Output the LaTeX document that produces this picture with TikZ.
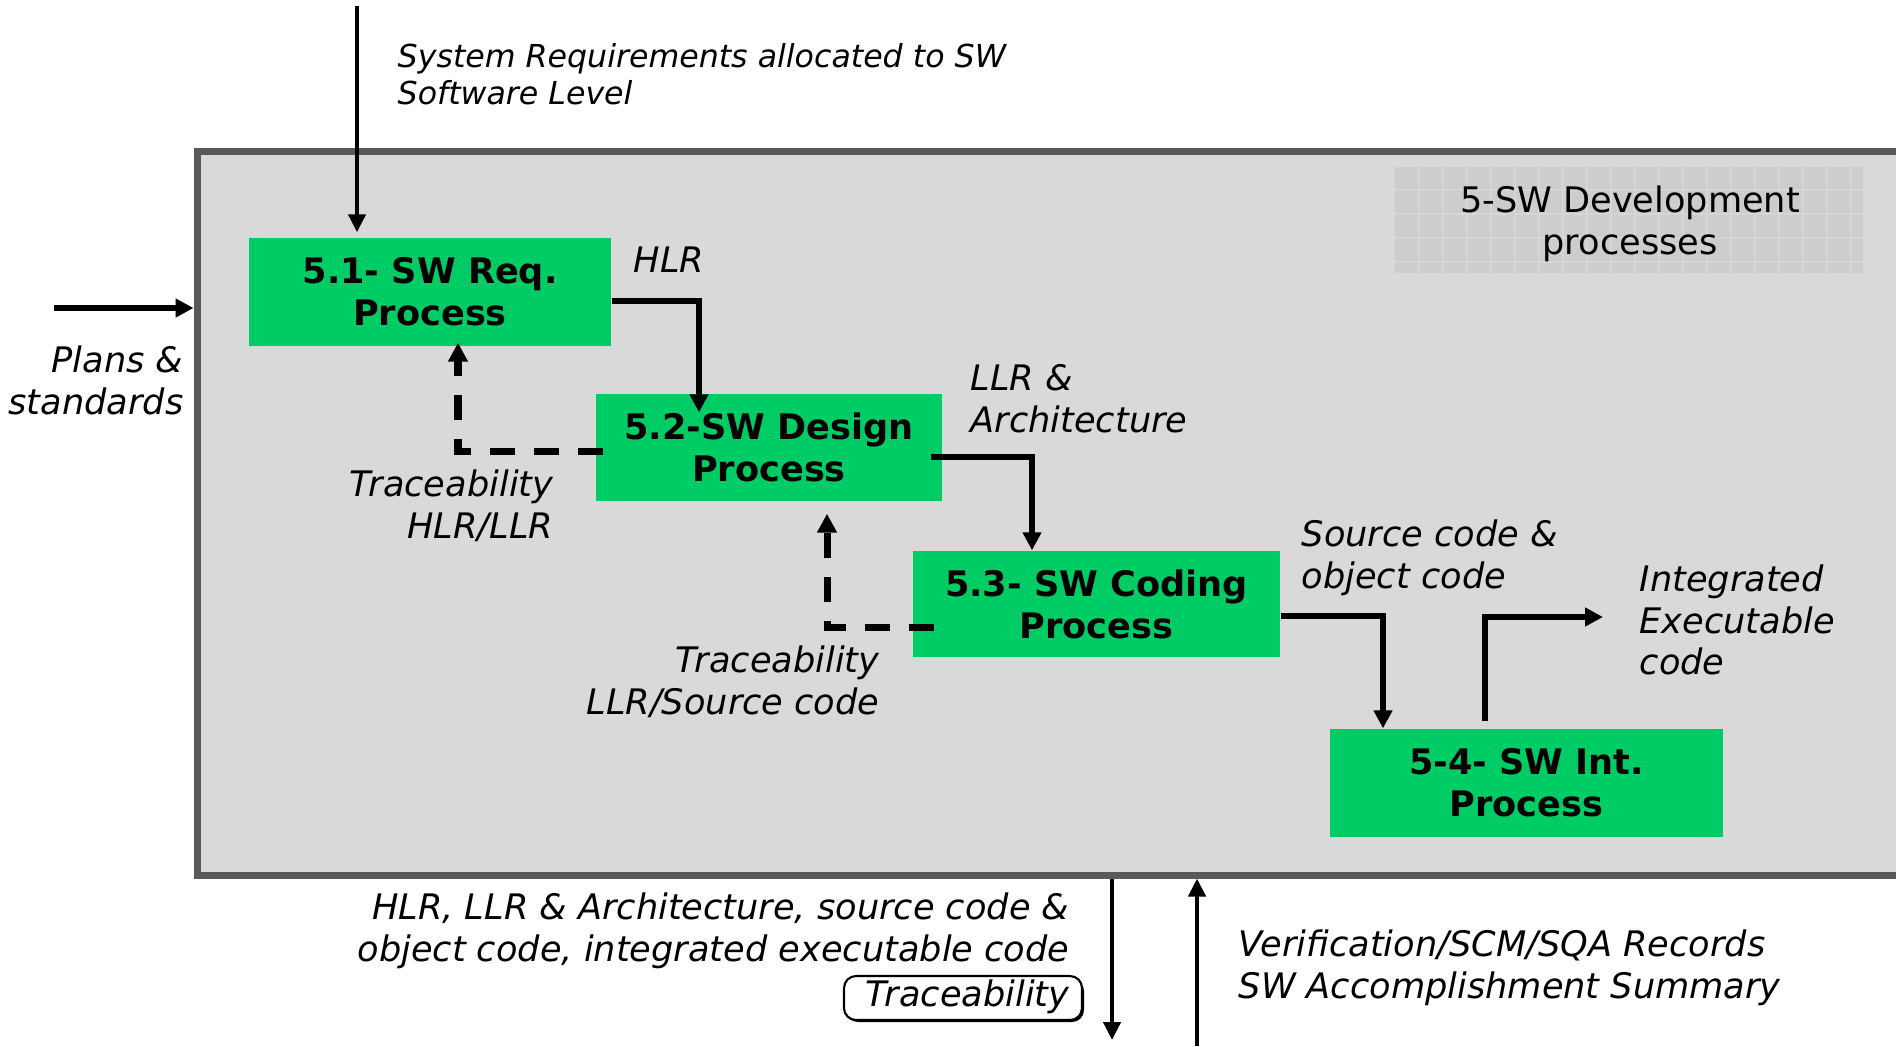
\documentclass[tikz,border=0pt]{standalone}
\usepackage{fontspec}
\setmainfont{DejaVu Sans}
\usetikzlibrary{arrows.meta,calc,fit}
\definecolor{procgreen}{HTML}{00CC66}
\definecolor{framefill}{HTML}{D9D9D9}
\definecolor{frameline}{HTML}{595959}
\definecolor{tagfill}{HTML}{CDCDCD}
\definecolor{taggrid}{HTML}{D6D6D6}

\begin{document}
\begin{tikzpicture}[x=0.1mm,y=-0.1mm,
  procbox/.style={fill=procgreen, inner sep=0pt, align=center,
    font=\fontsize{10}{11.9}\selectfont\bfseries},
  lbl/.style={inner sep=0pt, font=\fontsize{10}{11.9}\selectfont\itshape},
  conn/.style={line width=1.85pt, -{Triangle[length=1.8mm,width=1.8mm]}},
  thinconn/.style={line width=1.2pt, -{Triangle[length=1.8mm,width=1.7mm]}},
  traceconn/.style={line width=2pt, dash pattern=on 2.5mm off 1.9mm,
    -{Triangle[length=1.9mm,width=1.9mm]}},
]
\useasboundingbox (0,0) rectangle (1896,1046);
\clip (0,0) rectangle (1896,1046);

% enclosing frame of the development processes
\node[fit={(197,151) (1990,875)}, inner sep=0pt, draw=frameline,
      line width=0.7mm, fill=framefill] (devbox) {};

% title tag with its grid texture
\fill[tagfill] (1395,167) rectangle (1863,273);
\foreach \gx in {1419,1443,...,1851}
  \draw[taggrid, line width=0.5pt] (\gx,167) -- (\gx,273);
\foreach \gy in {190,214,...,262}
  \draw[taggrid, line width=0.5pt] (1395,\gy) -- (1863,\gy);
\node[inner sep=0pt, align=center, font=\fontsize{10}{11.9}\selectfont]
  (tag) at (1630,224) {5-SW Development\\processes};

% process boxes
\node[procbox, minimum width=36.2mm, minimum height=10.8mm] (r1) at (430,292) {5.1- SW Req.\\Process};
\node[procbox, minimum width=34.6mm, minimum height=10.7mm] (r2) at (769,447.5) {5.2-SW Design\\Process};
\node[procbox, minimum width=36.7mm, minimum height=10.6mm] (r3) at (1096.5,604) {5.3- SW Coding\\Process};
\node[procbox, minimum width=39.3mm, minimum height=10.8mm] (r4) at (1526.5,783) {5-4- SW Int.\\Process};

% inputs
\coordinate (sysTop) at (357,6);
\draw[thinconn] (sysTop) -- ($(r1.north)+(-73,-5)$);
\coordinate (plansStart) at (54,308);
\draw[conn] (plansStart) -- (plansStart -| devbox.west);

% data flow between processes
\draw[conn] ($(r1.east)+(0,9)$) -| ($(r2.north)+(-70,19)$);
\draw[conn] ($(r2.east)+(-12,9.5)$) -| ($(r3.north)+(-64.5,0)$);
\draw[conn] ($(r3.east)+(0,12)$) -| ($(r4.north)+(-143.5,0)$);
\coordinate (intTip) at (1603,617);
\draw[conn] ($(r4.north)+(-41.5,-7)$) |- (intTip);

% traceability links
\draw[traceconn] ($(r2.west)+(8,3.5)$) -| ($(r1.south)+(28,-4)$);
\draw[traceconn] ($(r3.west)+(22,23)$) -| ($(r2.south)+(58,12)$);

% outputs and records
\coordinate (outTip) at (1112,1040);
\draw[thinconn] (outTip |- devbox.south) -- (outTip);
\coordinate (inFoot) at (1197,1046);
\draw[thinconn] (inFoot) -- (inFoot |- devbox.south);

% labels
\node[lbl, anchor=west, align=left, font=\fontsize{9}{10.6}\selectfont\itshape]
  (sysLbl) at (397,74.5) {System Requirements allocated to SW\\Software Level};
\node[lbl] (hlrLbl) at (669,260) {HLR};
\node[lbl, anchor=east, align=right] (plansLbl) at (184,380.5) {Plans \&\\standards};
\node[lbl, anchor=west, align=left] (llrLbl) at (970,399) {LLR \&\\Architecture};
\node[lbl, anchor=east, align=right] (tr1) at (554,505.5) {Traceability\\HLR/LLR};
\node[lbl, anchor=west, align=left] (srcLbl) at (1301,558) {Source code \&\\object code};
\node[lbl, anchor=east, align=right] (tr2) at (880,682) {Traceability\\LLR/Source code};
\node[lbl, anchor=west, align=left] (intLbl) at (1639,620) {Integrated\\Executable\\code};
\node[lbl, anchor=east, align=right] (outLbl) at (1070,930.5) {HLR, LLR \& Architecture, source code \&\\object code, integrated executable code};
\node[lbl, anchor=west, align=left] (inLbl) at (1238,968) {Verification/SCM/SQA Records\\SW Accomplishment Summary};

% traceability tag under the outputs
\fill[black, rounded corners=1.2mm] (846,979) rectangle (1084,1022);
\draw[black, fill=white, line width=0.6pt, rounded corners=1.2mm] (844,976) rectangle (1082,1020);
\node[lbl, anchor=east] (trTag) at (1070,997) {Traceability};
\end{tikzpicture}
\end{document}
